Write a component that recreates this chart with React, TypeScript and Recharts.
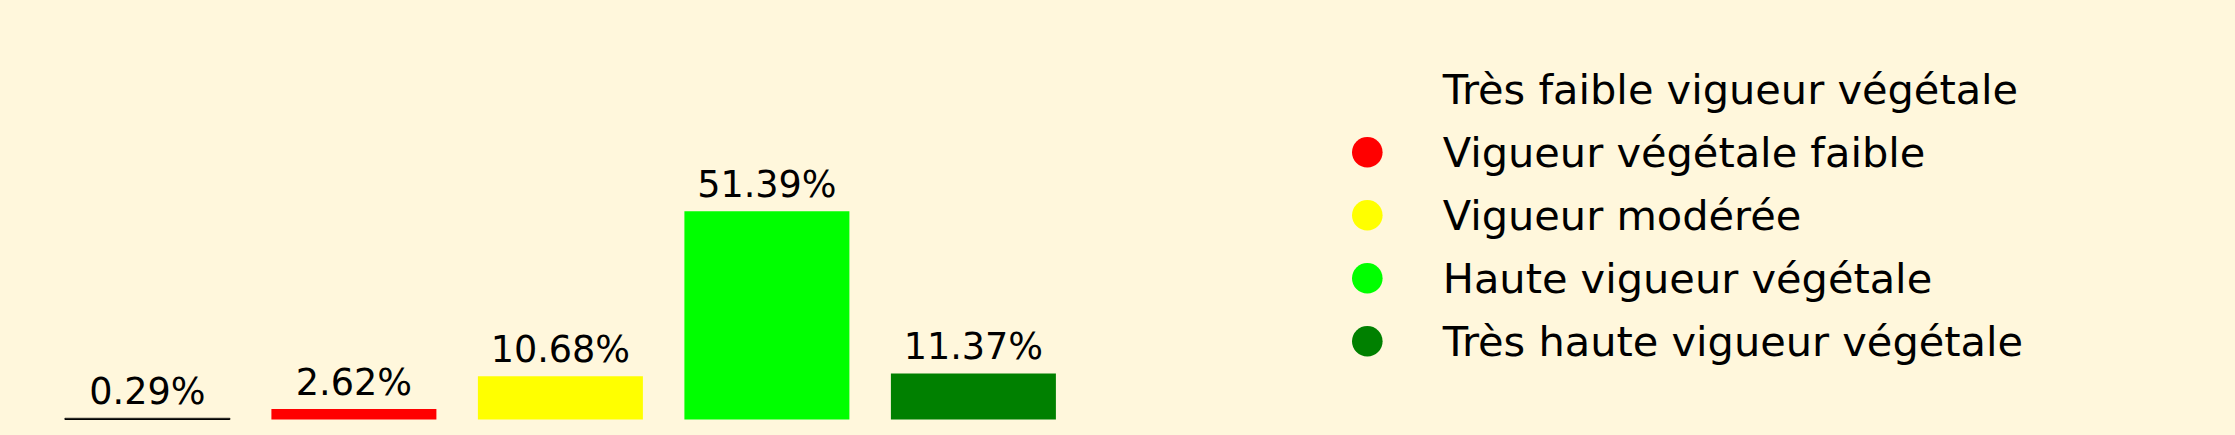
import React from 'react';
import { BarChart, Bar, XAxis, YAxis, Cell, LabelList } from 'recharts';

const categories = [
    'Très faible vigueur végétale',
    'Vigueur végétale faible',
    'Vigueur modérée',
    'Haute vigueur végétale',
    'Très haute vigueur végétale',
];
const percentages = [0.29, 2.62, 10.68, 51.39, 11.37];
const colors = ['transparent', '#FF0000', '#FFFF00', '#00FF00', '#008000'];
const edgeColors = ['#000000', 'none', 'none', 'none', 'none'];

const BG = '#FFF7DC';
const FONT = '"DejaVu Sans", sans-serif';

const chartData = categories.map((name, i) => ({ name, value: percentages[i] }));

const Legend: React.FC = () => (
    <svg width={780} height={435} style={{ position: 'absolute', left: 1300, top: 0 }}>
        {categories.map((name, i) => {
            const cy = 89.3 + i * 63;
            return (
                <g key={name}>
                    <circle cx={67.3} cy={cy} r={15.3} fill={colors[i]} />
                    <text x={142.7} y={cy + 14.8} fontFamily={FONT} fontSize={41.5} fill="#000">
                        {name}
                    </text>
                </g>
            );
        })}
    </svg>
);

const App: React.FC = () => {
    return (
        <div style={{ position: 'absolute', left: 0, top: 0, width: 2235, height: 435, background: BG }}>
            <BarChart
                width={2235}
                height={435}
                data={chartData}
                margin={{ top: 176.5, right: 1158.25, bottom: 15.5, left: 44.25 }}
                barCategoryGap="10%"
            >
                <XAxis dataKey="name" hide />
                <YAxis domain={[0, 60]} hide />
                <Bar dataKey="value" isAnimationActive={false}>
                    {chartData.map((d, i) => (
                        <Cell key={d.name} fill={colors[i]} stroke={edgeColors[i]} strokeWidth={1} />
                    ))}
                    <LabelList
                        dataKey="value"
                        position="top"
                        offset={14}
                        formatter={(v: any) => `${Number(v).toFixed(2)}%`}
                        style={{ fontFamily: FONT, fontSize: 36.6, fill: '#000' }}
                    />
                </Bar>
            </BarChart>
            <Legend />
        </div>
    );
};

export default App;
